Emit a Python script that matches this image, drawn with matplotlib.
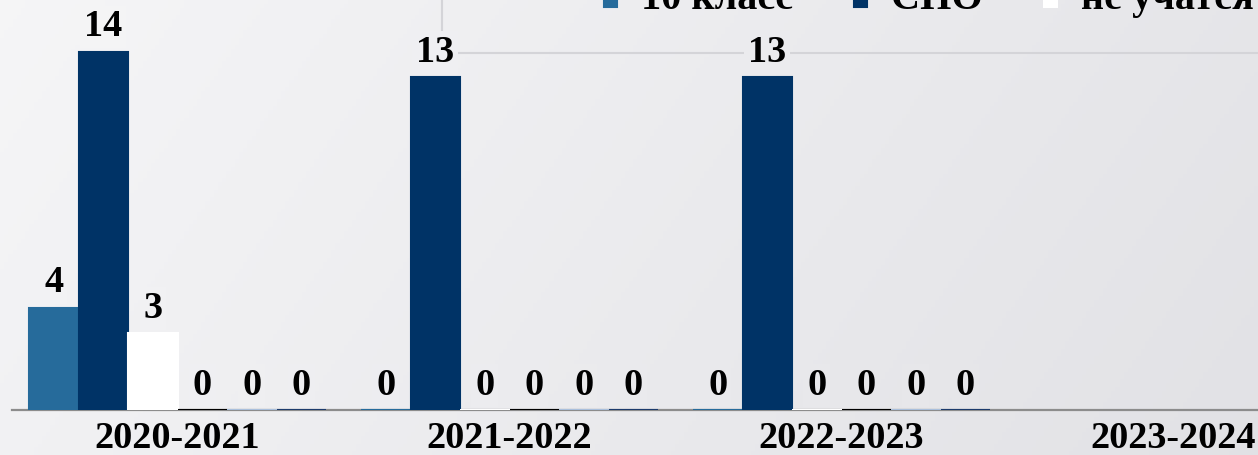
import numpy as np
import matplotlib
matplotlib.use("Agg")
import matplotlib.pyplot as plt
from matplotlib.patches import Rectangle

## data
years = ["2020-2021", "2021-2022", "2022-2023", "2023-2024"]
legend_names = ["10 класс", "СПО", "не учатся"]   # only these are visible in the picture
s1 = [4, 0, 0, np.nan]
s2 = [14, 13, 13, np.nan]
s3 = [3, 0, 0, np.nan]
s4 = [0, 0, 0, np.nan]
s5 = [0, 0, 0, np.nan]
s6 = [0, 0, 0, np.nan]
series = [s1, s2, s3, s4, s5, s6]
colors = ["#266b9b", "#003366", "#ffffff", "#000000", "#a9bfdc", "#1c3b6c"]

W, H, DPI = 1258, 455, 100
fig = plt.figure(figsize=(W / DPI, H / DPI), dpi=DPI)

## background gradient (light left, darker top right)
def grad_color(fx, fy):
    t = 0.8 * fx + 0.2 * (1 - fy)
    light = np.array([0.962, 0.962, 0.968])
    dark = np.array([0.885, 0.885, 0.900])
    return light + (dark - light) * t

gx, gy = np.meshgrid(np.linspace(0, 1, 300), np.linspace(1, 0, 120))
img = grad_color(gx[..., None], gy[..., None])
bg = fig.add_axes([0, 0, 1, 1], zorder=-10)
bg.imshow(img, aspect="auto", extent=[0, 1, 0, 1])
bg.axis("off")

ax = fig.add_axes([0, 45 / H, 1, 410 / H])
ax.patch.set_alpha(0)

font = dict(family="Liberation Serif", weight="bold")
w = 49.5 / 332
x = np.arange(len(years))
bars = []
for i, (vals, c) in enumerate(zip(series, colors)):
    b = ax.bar(x + (i - 2.5) * w, vals, width=w, color=c, edgecolor=c,
               linewidth=1.5, zorder=3)
    bars.append(b)

ax.set_xlim(-0.535, -0.535 + W / 332)
ax.set_ylim(0, 410 / 25.6)

ax.set_xticks(x)
ax.set_xticklabels(years, fontsize=27.5, **font)
ax.tick_params(axis="x", length=0, pad=8)
ax.set_yticks([])
for s in ["top", "left", "right"]:
    ax.spines[s].set_visible(False)
ax.spines["bottom"].set_color("#8c8c8c")
ax.spines["bottom"].set_linewidth(1.6)
ax.spines["bottom"].set_bounds(-0.5, 4)

## data labels
fig.canvas.draw()
for i, vals in enumerate(series):
    for j, v in enumerate(vals):
        if np.isnan(v):
            continue
        xp = x[j] + (i - 2.5) * w
        px, py = ax.transData.transform((xp, v + 0.9))
        bgc = grad_color(px / W, py / H)
        ax.annotate(f"{int(v)}", (xp, v), xytext=(0, 11), textcoords="offset points",
                    ha="center", va="baseline", fontsize=27.5, zorder=6,
                    bbox=dict(boxstyle="square,pad=0.1", fc=bgc, ec="none"), **font)

## legend frame and legend
ax.add_patch(Rectangle((442 / W, 1 - 53 / H), 1, 1, transform=fig.transFigure,
                       fill=False, ec="#d4d4d8", lw=1.5, clip_on=False, zorder=1))
leg = ax.legend(bars[:3], legend_names, loc="center left",
                bbox_to_anchor=(604 / W, 1 + 0.5 / H), bbox_transform=fig.transFigure,
                ncol=3, frameon=False, borderpad=0, borderaxespad=0,
                handlelength=0.33, handleheight=0.58, handletextpad=0.6,
                columnspacing=1.5, prop=dict(size=29, **font))
leg.set_zorder(5)

fig.savefig("out.png", dpi=DPI)
